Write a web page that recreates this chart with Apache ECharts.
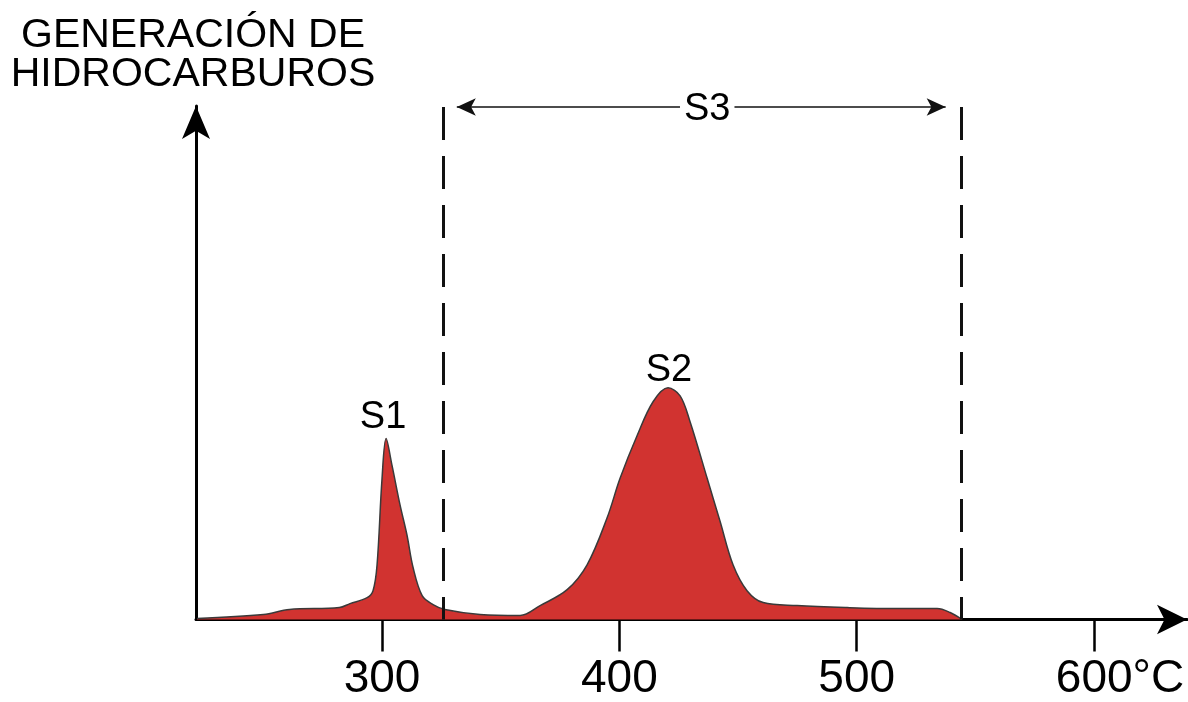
<!DOCTYPE html>
<html>
<head>
<meta charset="utf-8">
<script src="https://cdn.jsdelivr.net/npm/echarts@6/dist/echarts.min.js"></script>
<style>
html,body{margin:0;padding:0;background:#fff;}
#chart{width:1188px;height:702px;}
</style>
</head>
<body>
<div id="chart"></div>
<script>
// Temperature (°C) along the pyrolysis run
var temps = [222, 250, 261, 282, 286.5, 293.7, 296.2, 297.9, 300, 301.7, 304.2, 307.6, 310.5, 313.1, 316.9, 321.5, 326.5, 341.3, 358.2, 366.6, 378, 386.4, 394.8, 400.3, 407.5, 414.2, 420.5, 425.6, 429.8, 437, 442.4, 447.9, 453.8, 460.6, 474.9, 496, 517, 533.9, 539.4, 544.4];
// Hydrocarbon generation signal (arbitrary units)
var generation = [1, 5, 10, 12, 16, 22, 29, 55, 142, 182, 155, 115, 85, 52, 24, 15, 10, 5, 4, 14, 30, 55, 102, 142, 185, 219, 233, 225, 199, 142, 99, 55, 29, 17, 14, 12, 11, 11, 7, 0];
// Axis ticks
var tickValues = [300, 400, 500, 600];
var unitLabel = '°C';
// Peaks
var peakNames = ['S1', 'S2'];
var peakTemps = [301.7, 420.5];
var peakValues = [182, 233];
// S3 window
var s3Name = 'S3';
var s3Start = 325.7;
var s3End = 544;
var s3ArrowFrom = 331.5;
var s3ArrowTo = 537.5;
var s3Level = 515.5;
var axisTitle = 'GENERACIÓN DE\nHIDROCARBUROS';

var FONT = '"Liberation Sans", Arial, Helvetica, sans-serif';
var chart = echarts.init(document.getElementById('chart'));

var pts = temps.map(function (t, i) { return [t, generation[i]]; });

var option = {
  animation: false,
  backgroundColor: '#ffffff',
  graphic: [{
    type: 'text',
    x: 193,
    y: 15.5,
    style: {
      text: axisTitle,
      fontSize: 41,
      fontFamily: FONT,
      lineHeight: 39.5,
      align: 'center',
      verticalAlign: 'top',
      fill: '#000'
    }
  }],
  grid: { left: 196, right: 1, top: 106, bottom: 79.5, containLabel: false },
  xAxis: {
    type: 'value',
    min: 221.6,
    max: 639.2,
    splitLine: { show: false },
    axisLine: {
      show: true,
      symbol: ['none', 'arrow'],
      symbolSize: [22, 30],
      symbolOffset: [0, 0],
      lineStyle: { color: '#000', width: 3 }
    },
    axisTick: {
      show: true,
      customValues: tickValues,
      length: 32,
      lineStyle: { color: '#000', width: 2.5 }
    },
    axisLabel: {
      show: true,
      customValues: tickValues,
      margin: 36.5,
      fontSize: 46,
      fontFamily: FONT,
      color: '#000',
      formatter: function (v) {
        return v === 600 ? '{pad|}' + v + unitLabel : String(v);
      },
      rich: {
        pad: { width: 52 }
      }
    }
  },
  yAxis: {
    type: 'value',
    min: 0,
    max: 516.5,
    splitLine: { show: false },
    axisTick: { show: false },
    axisLabel: { show: false },
    axisLine: {
      show: true,
      symbol: ['none', 'arrow'],
      symbolSize: [21, 33],
      symbolOffset: [0, 0],
      lineStyle: { color: '#000', width: 3 }
    }
  },
  series: [
    {
      type: 'line',
      name: 'window',
      z: 1,
      data: [],
      silent: true,
      markLine: {
        silent: true,
        symbol: ['none', 'none'],
        label: { show: false },
        lineStyle: { color: '#111', width: 3, type: [33, 16] },
        data: [
          [{ coord: [s3Start, s3Level] }, { coord: [s3Start, 0] }],
          [{ coord: [s3End, s3Level] }, { coord: [s3End, 0] }]
        ]
      }
    },
    {
      type: 'line',
      name: 'generation',
      z: 3,
      data: pts,
      smooth: 0.35,
      showSymbol: false,
      silent: true,
      lineStyle: { color: '#3a3a3a', width: 1.5 },
      areaStyle: { color: '#D13330', opacity: 1 },
      markPoint: {
        silent: true,
        symbol: 'circle',
        symbolSize: 0,
        label: {
          show: true,
          position: 'top',
          fontSize: 38,
          fontFamily: FONT,
          color: '#000',
          formatter: function (p) { return p.name; }
        },
        data: peakNames.map(function (n, i) {
          return { name: n, coord: [peakTemps[i], peakValues[i]], label: { distance: i === 0 ? 2 : -2, offset: [i === 0 ? -3 : 1, 0] } };
        })
      }
    },
    {
      type: 'line',
      name: 's3',
      z: 4,
      data: [],
      silent: true,
      markLine: {
        silent: true,
        symbol: ['arrow', 'arrow'],
        symbolSize: [13, 19],
        lineStyle: { color: '#111', width: 1.5, type: 'solid' },
        label: {
          show: true,
          position: 'middle',
          formatter: s3Name,
          fontSize: 38,
          fontFamily: FONT,
          color: '#000',
          backgroundColor: '#fff',
          padding: [0, 4],
          offset: [6, 27]
        },
        data: [
          [{ coord: [s3ArrowFrom, s3Level] }, { coord: [s3ArrowTo, s3Level] }]
        ]
      }
    }
  ]
};
chart.setOption(option);
</script>
</body>
</html>
